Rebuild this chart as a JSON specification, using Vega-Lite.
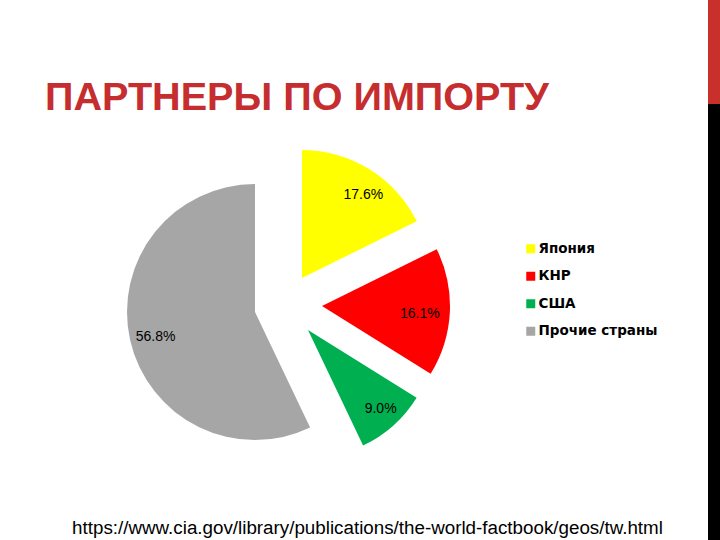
{
  "$schema": "https://vega.github.io/schema/vega-lite/v6.json",
  "padding": 0,
  "background": "white",
  "spacing": 11,
  "align": "none",
  "bounds": "full",
  "config": {"view": {"stroke": null}},
  "datasets": {
    "imports": [
      {"country": "Япония", "share": 17.6, "label": "17.6%", "rank": 1},
      {"country": "КНР", "share": 16.1, "label": "16.1%", "rank": 2},
      {"country": "США", "share": 9.0, "label": "9.0%", "rank": 3},
      {"country": "Прочие страны", "share": 56.8, "label": "56.8%", "rank": 4}
    ]
  },
  "hconcat": [
    {
      "title": {"text": "ПАРТНЕРЫ ПО ИМПОРТУ", "anchor": "start", "dx": 45, "dy": 129, "font": "Liberation Sans", "fontSize": 39.6, "fontWeight": "bold", "color": "#c62d2f", "offset": 10},
      "vconcat": [
        {
          "width": 697,
          "height": 509,
          "title": {"text": "https://www.cia.gov/library/publications/the-world-factbook/geos/tw.html", "orient": "bottom", "anchor": "middle", "dx": 19, "font": "Liberation Sans", "fontSize": 18.8, "fontWeight": "normal", "color": "#000000", "offset": 10},
          "data": {"name": "imports"},
          "encoding": {
            "theta": {"field": "share", "type": "quantitative", "stack": true},
            "order": {"field": "rank", "type": "quantitative"}
          },
          "layer": [
            {
              "mark": {"type": "arc", "outerRadius": 128, "xOffset": -93.5, "yOffset": 57.5},
              "encoding": {
                "color": {"field": "country", "type": "nominal", "scale": {"domain": ["Япония", "КНР", "США", "Прочие страны"], "range": ["#ffff00", "#ff0000", "#00b050", "#a6a6a6"]},
                  "legend": {"title": null, "orient": "none", "legendX": 524, "legendY": 242, "symbolType": "square", "symbolSize": 81, "symbolStrokeWidth": 0, "labelFont": "DejaVu Sans", "labelFontWeight": "bold", "labelFontSize": 13.5, "labelColor": "#000000", "labelOffset": 1, "rowPadding": 12.5, "padding": 0, "labelLimit": 300}},
                "opacity": {"condition": {"test": "datum.country === 'Прочие страны'", "value": 1}, "value": 0}
              }
            },
            {
              "mark": {"type": "arc", "outerRadius": 128, "xOffset": -46.5, "yOffset": 23.5},
              "encoding": {
                "color": {"field": "country", "type": "nominal"},
                "opacity": {"condition": {"test": "datum.country === 'Япония'", "value": 1}, "value": 0}
              }
            },
            {
              "mark": {"type": "arc", "outerRadius": 128, "xOffset": -26.5, "yOffset": 51.5},
              "encoding": {
                "color": {"field": "country", "type": "nominal"},
                "opacity": {"condition": {"test": "datum.country === 'КНР'", "value": 1}, "value": 0}
              }
            },
            {
              "mark": {"type": "arc", "outerRadius": 128, "xOffset": -40.5, "yOffset": 75.5},
              "encoding": {
                "color": {"field": "country", "type": "nominal"},
                "opacity": {"condition": {"test": "datum.country === 'США'", "value": 1}, "value": 0}
              }
            },
            {
              "mark": {"type": "text", "radius": 103, "xOffset": -92.5, "yOffset": 59.5, "font": "Liberation Sans", "fontSize": 14, "color": "#000000"},
              "encoding": {
                "detail": {"field": "country"},
                "text": {"field": "label"},
                "opacity": {"condition": {"test": "datum.country === 'Прочие страны'", "value": 1}, "value": 0}
              }
            },
            {
              "mark": {"type": "text", "radius": 103, "xOffset": -39.5, "yOffset": 28.5, "font": "Liberation Sans", "fontSize": 14, "color": "#000000"},
              "encoding": {
                "detail": {"field": "country"},
                "text": {"field": "label"},
                "opacity": {"condition": {"test": "datum.country === 'Япония'", "value": 1}, "value": 0}
              }
            },
            {
              "mark": {"type": "text", "radius": 103, "xOffset": -31.5, "yOffset": 54.5, "font": "Liberation Sans", "fontSize": 14, "color": "#000000"},
              "encoding": {
                "detail": {"field": "country"},
                "text": {"field": "label"},
                "opacity": {"condition": {"test": "datum.country === 'КНР'", "value": 1}, "value": 0}
              }
            },
            {
              "mark": {"type": "text", "radius": 103, "xOffset": -36.5, "yOffset": 77.5, "font": "Liberation Sans", "fontSize": 14, "color": "#000000"},
              "encoding": {
                "detail": {"field": "country"},
                "text": {"field": "label"},
                "opacity": {"condition": {"test": "datum.country === 'США'", "value": 1}, "value": 0}
              }
            }
          ]
        }
      ]
    },
    {
      "spacing": 0,
      "vconcat": [
        {"width": 12, "height": 104, "view": {"fill": "#c9302c", "stroke": null}, "data": {"values": []}, "mark": "point", "encoding": {}},
        {"width": 12, "height": 436, "view": {"fill": "#000000", "stroke": null}, "data": {"values": []}, "mark": "point", "encoding": {}}
      ]
    }
  ]
}
